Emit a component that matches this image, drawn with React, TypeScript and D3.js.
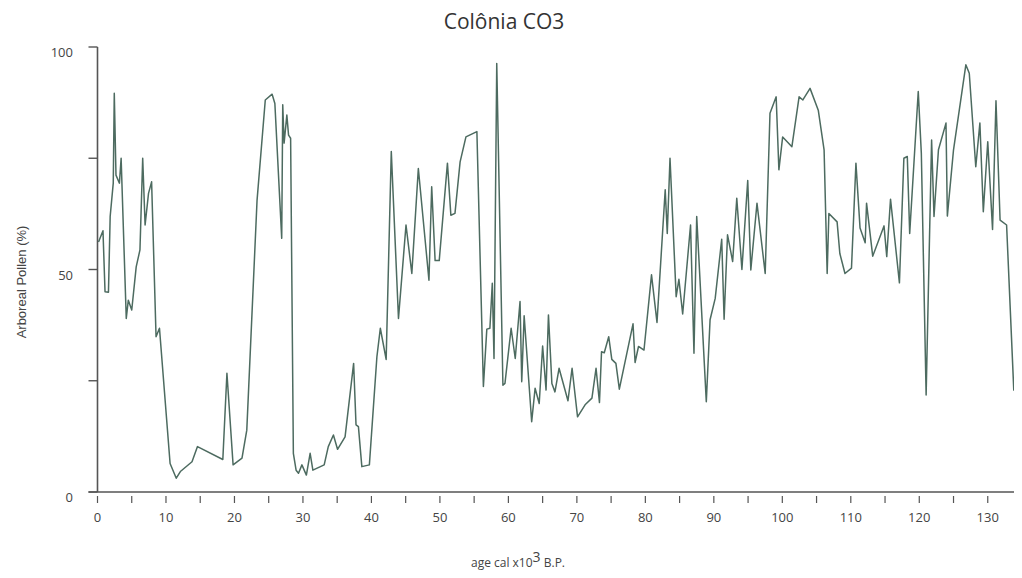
import React, { useRef, useEffect } from 'react';
import * as d3 from 'd3';

// age (cal ka BP) and arboreal pollen (%)
const ages = [
  0.15, 0.8, 1.1, 1.6, 1.85, 2.3, 2.45, 2.7, 3.2, 3.45, 4.2, 4.5, 5.0, 5.65, 6.2, 6.6, 6.95, 7.45, 7.9,
  8.55, 9.05, 10.6, 11.5, 12.1, 13.8, 14.6, 18.3, 18.9, 19.8, 21.1, 21.8, 23.3, 24.5, 25.5, 25.9, 26.9,
  27.05, 27.25, 27.65, 27.9, 28.2, 28.6, 29.0, 29.35, 29.85, 30.5, 31.05, 31.45, 33.1, 33.7, 34.45,
  35.05, 36.15, 37.4, 37.75, 38.1, 38.6, 39.7, 40.8, 41.3, 42.15, 42.9, 43.95, 45.05, 45.9, 46.85,
  48.4, 48.8, 49.3, 49.9, 51.1, 51.6, 52.2, 52.95, 53.8, 55.4, 56.35, 56.85, 57.3, 57.65, 57.9, 58.3,
  59.2, 59.5, 60.4, 61.0, 61.7, 61.95, 62.3, 63.4, 63.9, 64.5, 65.0, 65.5, 65.85, 66.35, 66.8, 67.4,
  68.7, 69.3, 70.1, 71.2, 72.2, 72.8, 73.3, 73.6, 74.0, 74.65, 75.1, 75.7, 76.2, 78.2, 78.5, 79.0,
  79.8, 80.9, 81.7, 82.9, 83.2, 83.6, 84.5, 84.9, 85.45, 86.6, 87.1, 87.5, 88.9, 89.45, 90.2, 91.15,
  91.5, 92.0, 92.75, 93.35, 94.1, 94.95, 95.4, 96.3, 97.5, 98.2, 99.1, 99.5, 100.05, 101.4, 102.45,
  103.0, 104.05, 105.25, 106.1, 106.55, 106.8, 108.0, 108.4, 109.15, 110.1, 110.75, 111.35, 112.1,
  112.3, 113.2, 114.85, 115.25, 115.8, 117.1, 117.75, 118.25, 118.6, 119.85, 120.3, 121.0, 121.8,
  122.15, 122.8, 123.9, 124.1, 125.0, 126.8, 127.3, 128.25, 128.85, 129.35, 130.0, 130.7, 131.2,
  131.8, 132.75, 133.8, 134.3,
];

const pollen = [
  56.2, 58.7, 45, 44.9, 61.9, 69.4, 89.6, 71.2, 69.4, 75, 39, 43.1, 40.9, 50.6, 54.4, 75, 60, 67.1, 69.7,
  34.9, 36.8, 6.4, 3.1, 4.6, 6.8, 10.2, 7.3, 26.7, 6.1, 7.6, 13.9, 65.6, 88.1, 89.4, 87.3, 57,
  87, 78.4, 84.7, 80.2, 79.5, 8.7, 4.9, 4.2, 6.1, 3.8, 8.7, 4.9, 6.1, 10.2, 12.8,
  9.6, 12.4, 28.9, 15.1, 14.7, 5.7, 6.1, 30.4, 36.8, 29.8, 76.5, 39, 60, 49.1, 72.7,
  47.6, 68.6, 52, 52, 73.9, 62.2, 62.6, 74.2, 79.8, 81, 23.7, 36.6, 36.8, 46.9, 30, 96.3,
  24, 24.4, 36.8, 30, 42.8, 24.8, 39.6, 15.8, 23.3, 19.9, 32.8, 22.9, 39.8, 24.4, 22.5, 27.8,
  20.5, 27.8, 16.9, 19.6, 21.1, 27.8, 20.1, 31.5, 31.3, 34.9, 29.8, 28.9, 23.1, 37.8, 29.1, 32.7,
  31.9, 48.8, 38.1, 67.9, 58.1, 75, 43.9, 47.8, 40, 60, 31.2, 61.9, 20.3, 38.7, 43.5, 56.8,
  38.8, 57.8, 51.8, 66, 50, 70, 49.9, 64.9, 49.1, 85.1, 88.8, 72.4, 79.8, 77.6, 88.8,
  88.1, 90.7, 85.8, 76.9, 49.1, 62.6, 60.7, 53.6, 49.1, 50.3, 73.9, 59.3, 56,
  64.9, 53, 59.8, 52.9, 65.8, 47, 75, 75.4, 58.1, 90, 76.1, 21.8, 79.1,
  61.9, 76.9, 82.9, 62, 76.9, 96, 94.1, 73.1, 82.9, 63, 78.7, 59, 87.9,
  61.1, 60, 22.9, 25.2,
];

const xTicks = d3.range(0, 136, 5);
const xLabels = d3.range(0, 131, 10);
const yTicks = [0, 25, 50, 75, 100];
const yLabels = [0, 50, 100];

const App = () => {
  const ref = useRef<SVGSVGElement>(null);

  useEffect(() => {
    const width = 1022;
    const height = 578;
    const svg = d3.select(ref.current);
    svg.selectAll('*').remove();

    const x = d3.scaleLinear().domain([0, 135]).range([97.5, 1022]);
    const y = d3.scaleLinear().domain([0, 100]).range([492, 47]);

    const axisColor = '#555';
    const textColor = '#444';
    const font = '"Open Sans", "Noto Sans", sans-serif';

    // title
    svg
      .append('text')
      .attr('x', 504)
      .attr('y', 29)
      .attr('text-anchor', 'middle')
      .attr('font-family', font)
      .attr('font-size', 21)
      .attr('fill', '#333')
      .text('Colônia CO3');

    // y axis
    svg
      .append('line')
      .attr('x1', x(0))
      .attr('x2', x(0))
      .attr('y1', y(100))
      .attr('y2', y(0))
      .attr('stroke', axisColor)
      .attr('stroke-width', 1.6);

    svg
      .append('g')
      .selectAll('line')
      .data(yTicks)
      .join('line')
      .attr('x1', x(0) - 9)
      .attr('x2', x(0))
      .attr('y1', (d) => y(d))
      .attr('y2', (d) => y(d))
      .attr('stroke', axisColor)
      .attr('stroke-width', 1.4);

    svg
      .append('g')
      .selectAll('text')
      .data(yLabels)
      .join('text')
      .attr('x', 73)
      .attr('y', (d) => y(d) + 10)
      .attr('text-anchor', 'end')
      .attr('font-family', font)
      .attr('font-size', 13)
      .attr('fill', textColor)
      .text((d) => d);

    // x axis
    svg
      .append('line')
      .attr('x1', x(0) - 9)
      .attr('x2', width)
      .attr('y1', y(0))
      .attr('y2', y(0))
      .attr('stroke', axisColor)
      .attr('stroke-width', 1.6);

    svg
      .append('g')
      .selectAll('line')
      .data(xTicks)
      .join('line')
      .attr('x1', (d) => x(d))
      .attr('x2', (d) => x(d))
      .attr('y1', y(0) + 4)
      .attr('y2', y(0) + 11)
      .attr('stroke', axisColor)
      .attr('stroke-width', 1.2);

    svg
      .append('g')
      .selectAll('text')
      .data(xLabels)
      .join('text')
      .attr('x', (d) => x(d))
      .attr('y', 522)
      .attr('text-anchor', 'middle')
      .attr('font-family', font)
      .attr('font-size', 13)
      .attr('fill', textColor)
      .text((d) => d);

    // axis titles
    const xt = svg
      .append('text')
      .attr('x', 518)
      .attr('y', 567)
      .attr('text-anchor', 'middle')
      .attr('font-family', font)
      .attr('font-size', 12)
      .attr('fill', textColor);
    xt.append('tspan').text('age cal x10');
    xt.append('tspan').attr('dy', -5).attr('font-size', 14).text('3');
    xt.append('tspan').attr('dy', 5).text(' B.P.');

    svg
      .append('text')
      .attr('transform', 'translate(26,282) rotate(-90)')
      .attr('text-anchor', 'middle')
      .attr('font-family', '"Liberation Sans Narrow", "Liberation Sans", sans-serif')
      .attr('font-size', 13)
      .attr('fill', textColor)
      .text('Arboreal Pollen (%)');

    // pollen curve
    const line = d3
      .line<number>()
      .x((d, i) => x(ages[i]))
      .y((d) => y(d));

    svg
      .append('path')
      .datum(pollen)
      .attr('d', line)
      .attr('fill', 'none')
      .attr('stroke', '#4d6b60')
      .attr('stroke-width', 1.5)
      .attr('stroke-linejoin', 'round');
  }, []);

  return <svg ref={ref} width={1022} height={578} style={{ display: 'block', margin: '-8px' }} />;
};

export default App;
